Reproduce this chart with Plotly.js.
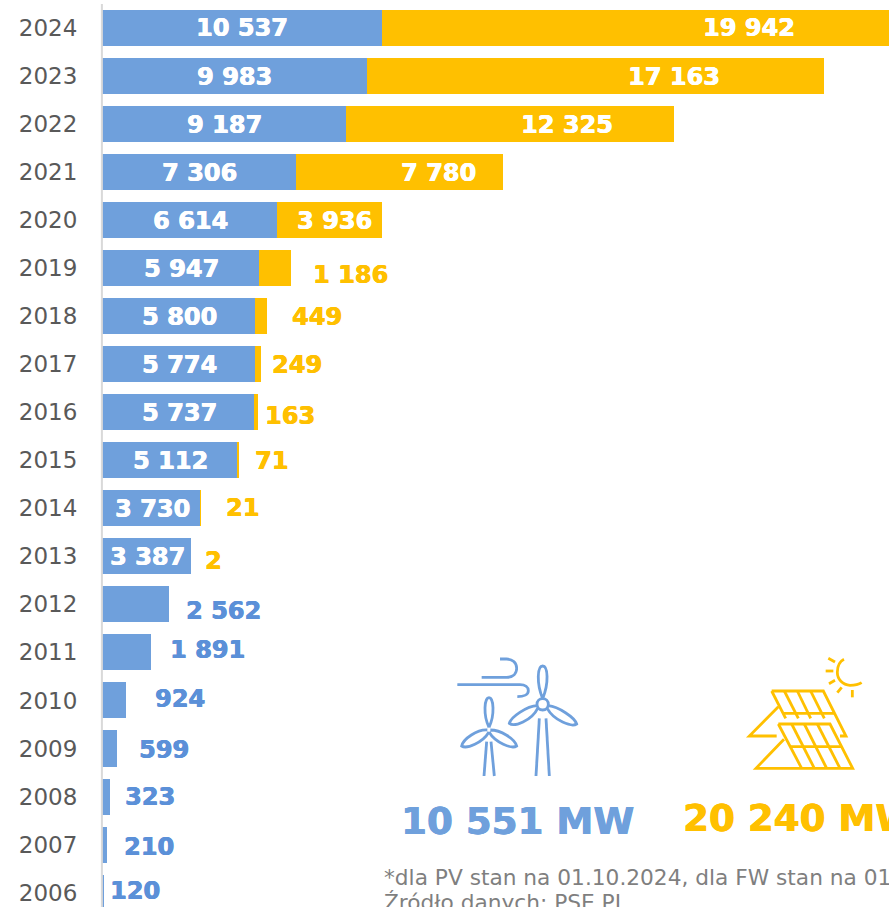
<!DOCTYPE html>
<html><head><meta charset="utf-8">
<script src="https://cdn.plot.ly/plotly-3.0.1.min.js"></script>
<style>html,body{margin:0;padding:0;background:#fff;overflow:hidden}#c{width:889px;height:907px}</style>
</head><body><div id="c"></div>
<script>
const years = ['2024','2023','2022','2021','2020','2019','2018','2017','2016','2015','2014','2013','2012','2011','2010','2009','2008','2007','2006'];
const wind = [10537,9983,9187,7306,6614,5947,5800,5774,5737,5112,3730,3387,2562,1891,924,599,323,210,120];
const solar = [19942,17163,12325,7780,3936,1186,449,249,163,71,21,2,0,0,0,0,0,0,0];
const windText = ['10 537','9 983','9 187','7 306','6 614','5 947','5 800','5 774','5 737','5 112','3 730','3 387','2 562','1 891','924','599','323','210','120'];
const solarText = ['19 942','17 163','12 325','7 780','3 936','1 186','449','249','163','71','21','2'];
const windLabelPx = [[242,28],[234,77],[224,125],[199,173],[190,221],[181,269],[179,317],[179,365],[179,413],[170,461],[152,509],[147,557],[223,611],[207,650],[180,699],[164,750],[150,797],[149,847],[135,891]];
const solarLabelPx = [[749,28],[674,77],[567,125],[438,173],[334,221],[350,275],[317,317],[297,365],[290,416],[271,461],[242,508],[213,561]];
const BLUE='#6FA0DC', ORANGE='#FFC000', BLUE_T='#5B90D8';
const W=889,H=907,L=101,T=4;
const FONT='"DejaVu Sans", Verdana, sans-serif';
const px=x=>(x-L)/(W-L), py=y=>1-(y-T)/(H-T);
const heavy=c=>'0.6px 0 0 '+c+', -0.3px 0 0 '+c;
const ann=[];
function label(t,p,color,size){const s=size||24;ann.push({xref:'paper',yref:'paper',x:px(p[0]),y:py(p[1]),xanchor:'center',yanchor:'middle',text:'<b>'+t+'</b>',showarrow:false,font:{family:FONT,size:s,color:color,shadow:heavy(color)}});}
windText.forEach((t,i)=>label(t,windLabelPx[i],i<12?'#FFFFFF':BLUE_T));
solarText.forEach((t,i)=>label(t,solarLabelPx[i],i<5?'#FFFFFF':ORANGE));
label('10 551 MW',[517.5,821],BLUE,37.2);
ann.push({xref:'paper',yref:'paper',x:px(681),y:py(818),xanchor:'left',yanchor:'middle',text:'<b>20 240 MW</b>',showarrow:false,font:{family:FONT,size:37.2,color:ORANGE,shadow:heavy(ORANGE)}});
const noteFont={family:FONT,size:21.7,color:'#7F7F7F'};
ann.push({xref:'paper',yref:'paper',x:px(382),y:py(877),xanchor:'left',yanchor:'middle',text:'*dla PV stan na 01.10.2024, dla FW stan na 01',showarrow:false,font:noteFont});
ann.push({xref:'paper',yref:'paper',x:px(382),y:py(902),xanchor:'left',yanchor:'middle',text:'Źródło danych: PSE.PL',showarrow:false,font:noteFont});
// icons, traced in zoom-crop coordinates of the reference
const zx=x=>px(380+x/3), zy=y=>py(640+y/3);
function conv(d){return d.replace(/(-?[\d.]+),(-?[\d.]+)/g,(m,a,b)=>zx(+a).toFixed(5)+','+zy(+b).toFixed(5));}
const iconW=[
 'M305,112 L380,112 C400,112 410,100 410,85 C410,68 397,57 380,57 L360,57',
 'M232,134 L420,134 C436,134 445,142 445,152 C445,163 432,170 412,170',
 'M488,176 C469,130 472,78 488,78 C504,78 507,130 488,176',
 'M472,197 C440,198 392,232 388,250 C402,262 455,242 473,205',
 'M505,197 C535,200 584,232 590,252 C575,262 522,242 502,206',
 'M478,235 L468,408','M498,235 L508,408',
 'M327,262 C309,225 313,173 327,173 C341,173 345,225 327,262',
 'M322,270 C292,268 250,296 245,318 C260,328 308,308 327,276',
 'M331,270 C362,270 404,296 410,318 C395,328 346,308 327,276',
 'M320,305 L312,408','M333,305 L343,408',
 'M471,193 C471,183 478,176 488,176 C498,176 505,183 505,193 C505,203 498,210 488,210 C478,210 471,203 471,193'
];
const iconS=[
 'M1392,58 C1378,65 1372,80 1372,97 C1372,118 1388,135 1410,136 C1425,136 1437,133 1445,128',
 'M1345,55 L1365,66','M1337,93 L1360,93','M1347,131 L1365,121','M1372,158 L1385,142','M1417,150 L1417,172',
 'M1175,153 L1330,153 L1398,288 L1380,288','M1175,153 L1217,235','M1213,153 L1255,235','M1252,153 L1292,235','M1292,153 L1333,235','M1210,220 L1365,220',
 'M1195,200 L1108,288 L1190,288',
 'M1195,252 L1350,252 L1418,385 L1128,385 L1212,298','M1195,252 L1265,385','M1235,252 L1303,385','M1273,252 L1340,385','M1312,252 L1380,385','M1230,320 L1385,320'
];
const mk=(d,c)=>({type:'path',xref:'paper',yref:'paper',path:conv(d),line:{color:c,width:2.8},fillcolor:'rgba(0,0,0,0)'});
const shapes=[...iconW.map(d=>mk(d,BLUE)),...iconS.map(d=>mk(d,ORANGE)),
 {type:'line',xref:'paper',yref:'paper',x0:px(101.9),x1:px(101.9),y0:py(4),y1:py(907),line:{color:'#D9D9D9',width:2}}];
const traces=[
 {type:'bar',orientation:'h',name:'Wiatr',y:years,x:wind,marker:{color:BLUE},hoverinfo:'skip'},
 {type:'bar',orientation:'h',name:'PV',y:years,x:solar,marker:{color:ORANGE},hoverinfo:'skip'}
];
const layout={width:W,height:H,margin:{l:L,r:0,t:T,b:0,pad:0},paper_bgcolor:'#fff',plot_bgcolor:'#fff',barmode:'stack',bargap:0.25,showlegend:false,
 xaxis:{range:[0,(W-L)/0.02663],showgrid:false,zeroline:false,showticklabels:false,ticks:'',showline:false},
 yaxis:{type:'category',categoryorder:'array',categoryarray:years,range:[18.3,-0.5],showgrid:false,zeroline:false,showline:false,ticks:'outside',ticklen:18,tickcolor:'rgba(0,0,0,0)',tickfont:{family:FONT,size:23,color:'#595959'}},
 annotations:ann,shapes:shapes};
Plotly.newPlot('c',traces,layout,{displayModeBar:false,staticPlot:true});
</script></body></html>
